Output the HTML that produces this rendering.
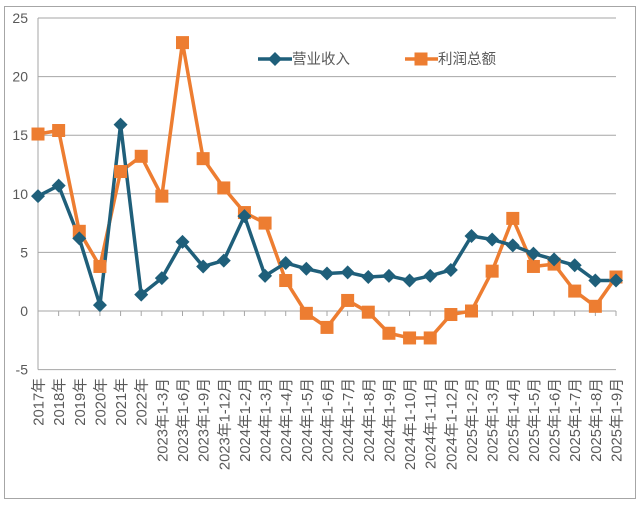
<!DOCTYPE html>
<html><head><meta charset="utf-8"><style>
body{margin:0;background:#fff}
svg text{font-family:"Liberation Sans","Noto Sans CJK SC",sans-serif;fill:#595959}
</style></head><body>
<svg width="640" height="503" viewBox="0 0 640 503" xmlns="http://www.w3.org/2000/svg">
<rect x="4.5" y="6.5" width="631" height="492" fill="#fff" stroke="#a6a6a6"/>
<g id="g"></g>
</svg>
<script>
const NS="http://www.w3.org/2000/svg",g=document.getElementById('g');
function el(t,a,txt){const e=document.createElementNS(NS,t);for(const k in a)e.setAttribute(k,a[k]);if(txt!==undefined)e.textContent=txt;g.appendChild(e);return e;}
const X0=38,X1=616,Y0=311,S=11.72;
const labels=["2017年","2018年","2019年","2020年","2021年","2022年","2023年1-3月","2023年1-6月","2023年1-9月","2023年1-12月","2024年1-2月","2024年1-3月","2024年1-4月","2024年1-5月","2024年1-6月","2024年1-7月","2024年1-8月","2024年1-9月","2024年1-10月","2024年1-11月","2024年1-12月","2025年1-2月","2025年1-3月","2025年1-4月","2025年1-5月","2025年1-6月","2025年1-7月","2025年1-8月","2025年1-9月"];
const blue=[9.8,10.7,6.2,0.5,15.9,1.4,2.8,5.9,3.8,4.3,8.1,3.0,4.1,3.6,3.2,3.3,2.9,3.0,2.6,3.0,3.5,6.4,6.1,5.6,4.9,4.4,3.9,2.6,2.6];
const org=[15.1,15.4,6.8,3.8,11.9,13.2,9.8,22.9,13.0,10.5,8.4,7.5,2.6,-0.2,-1.4,0.9,-0.1,-1.9,-2.3,-2.3,-0.3,0.0,3.4,7.9,3.8,4.0,1.7,0.4,2.9];
const dx=(X1-X0)/28;
const xs=i=>X0+dx*i, ys=v=>Y0-v*S;
for(let v=-5;v<=25;v+=5){const y=ys(v);
 if(v!==-5&&v!==0) el('line',{x1:X0,x2:X1,y1:y,y2:y,stroke:'#a6a6a6','stroke-width':1});
 el('text',{x:28,y:y+5,'text-anchor':'end','font-size':14},String(v));}
el('line',{x1:X0,x2:X1,y1:ys(-5),y2:ys(-5),stroke:'#a6a6a6'});
el('line',{x1:X0,x2:X0,y1:ys(25),y2:ys(-5),stroke:'#a6a6a6'});
el('line',{x1:X0,x2:X1,y1:Y0,y2:Y0,stroke:'#a6a6a6'});
for(let i=0;i<29;i++){el('line',{x1:xs(i),x2:xs(i),y1:Y0,y2:Y0+5,stroke:'#a6a6a6'});
 const x=xs(i)+5.5,y=378;el('text',{x:x,y:y,'text-anchor':'end','font-size':14.8,transform:`rotate(-90 ${x} ${y})`},labels[i]);}
el('polyline',{points:org.map((v,i)=>xs(i)+','+ys(v)).join(' '),fill:'none',stroke:'#ed7d31','stroke-width':3.5,'stroke-linejoin':'round'});
el('polyline',{points:blue.map((v,i)=>xs(i)+','+ys(v)).join(' '),fill:'none',stroke:'#1f5f7a','stroke-width':3.5,'stroke-linejoin':'round'});
function dia(x,y){el('polygon',{points:`${x},${y-7} ${x+7},${y} ${x},${y+7} ${x-7},${y}`,fill:'#1f5f7a'});}
function sq(x,y){el('rect',{x:x-6.5,y:y-6.5,width:13,height:13,fill:'#ed7d31'});}
org.forEach((v,i)=>sq(xs(i),ys(v)));
blue.forEach((v,i)=>dia(xs(i),ys(v)));
el('line',{x1:258,x2:292,y1:59,y2:59,stroke:'#1f5f7a','stroke-width':3.5});dia(275,59);
el('text',{x:292,y:64,'font-size':14.5},'营业收入');
el('line',{x1:405,x2:438,y1:59,y2:59,stroke:'#ed7d31','stroke-width':3.5});sq(421,59);
el('text',{x:438,y:64,'font-size':14.5},'利润总额');
</script>
</body></html>
